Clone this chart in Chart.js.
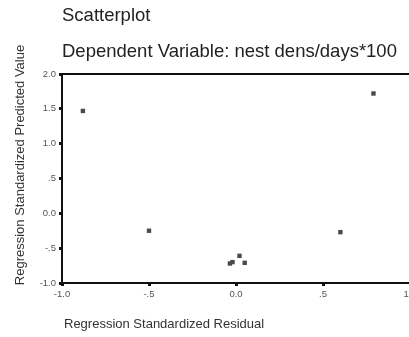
<!DOCTYPE html>
<html>
<head>
<meta charset="utf-8">
<script src="https://cdn.jsdelivr.net/npm/chart.js@4"></script>
<style>
  html, body { margin: 0; padding: 0; background: #fff; overflow: hidden; }
  #wrap { position: relative; width: 420px; height: 337px; }
</style>
</head>
<body>
<div id="wrap"><canvas id="scatter"></canvas></div>
<script>
'use strict';

// ── Data ──────────────────────────────────────────────────────────
const residuals = [-0.88, -0.50, -0.035, -0.02, 0.02, 0.05, 0.60, 0.79];
const predicted = [1.47, -0.25, -0.72, -0.70, -0.61, -0.71, -0.27, 1.72];
const xTicks = [-1.0, -0.5, 0.0, 0.5, 1.0];
const yTicks = [-1.0, -0.5, 0.0, 0.5, 1.0, 1.5, 2.0];

const TITLE    = 'Scatterplot';
const SUBTITLE = 'Dependent Variable: nest dens/days*100';
const X_TITLE  = 'Regression Standardized Residual';
const Y_TITLE  = 'Regression Standardized Predicted Value';

const FONT = '"Liberation Sans", Arial, sans-serif';

// SPSS style tick text: ".5", "-.5", "0.0", "1.0"
function fmt(v) {
  if (v === 0) return '0.0';
  const s = v.toFixed(1);
  return Math.abs(v) < 1 ? s.replace('0.', '.') : s;
}

// ── Frame + texts ─────────────────────────────────────────────────
const decor = {
  id: 'decor',
  afterDraw(c) {
    const { ctx, chartArea: a } = c;
    ctx.save();
    ctx.strokeStyle = '#111';
    ctx.lineWidth = 2;
    ctx.strokeRect(a.left, a.top, a.right - a.left, a.bottom - a.top);

    ctx.fillStyle = '#222';
    ctx.textBaseline = 'alphabetic';
    ctx.textAlign = 'left';
    ctx.font = '18.5px ' + FONT;
    ctx.fillText(TITLE, a.left, 21);
    ctx.fillText(SUBTITLE, a.left, 57);

    ctx.fillStyle = '#333';
    ctx.font = '13px ' + FONT;
    ctx.fillText(X_TITLE, a.left + 2, 328);

    ctx.translate(24, 165);
    ctx.rotate(-Math.PI / 2);
    ctx.textAlign = 'center';
    ctx.fillText(Y_TITLE, 0, 0);
    ctx.restore();
  },
};

// ── Chart ─────────────────────────────────────────────────────────
const axisBase = {
  type: 'linear',
  border: { display: true, color: '#111', width: 2 },
  grid: { drawOnChartArea: false, color: '#111', tickLength: 3, tickWidth: 3 },
  ticks: { color: '#555', font: { family: FONT, size: 9.5 }, padding: 3, callback: v => fmt(v) },
};

new Chart(document.getElementById('scatter'), {
  type: 'scatter',
  data: {
    datasets: [{
      data: residuals.map((x, i) => ({ x, y: predicted[i] })),
      pointStyle: 'rect',
      pointRadius: 3.1,
      backgroundColor: '#4a4a4a',
      borderColor: '#4a4a4a',
      borderWidth: 0,
    }],
  },
  options: {
    responsive: true,
    maintainAspectRatio: false,
    animation: false,
    layout: { padding: { top: 74, right: 10, left: 0, bottom: 0 } },
    scales: {
      x: {
        ...axisBase,
        min: -1, max: 1,
        afterBuildTicks: s => { s.ticks = xTicks.map(value => ({ value })); },
        afterFit: s => { s.height = 54; },
      },
      y: {
        ...axisBase,
        min: -1, max: 2,
        afterBuildTicks: s => { s.ticks = yTicks.map(value => ({ value })); },
        afterFit: s => { s.width = 62; },
      },
    },
    plugins: {
      legend: { display: false },
      tooltip: { enabled: false },
    },
  },
  plugins: [decor],
});
</script>
</body>
</html>
